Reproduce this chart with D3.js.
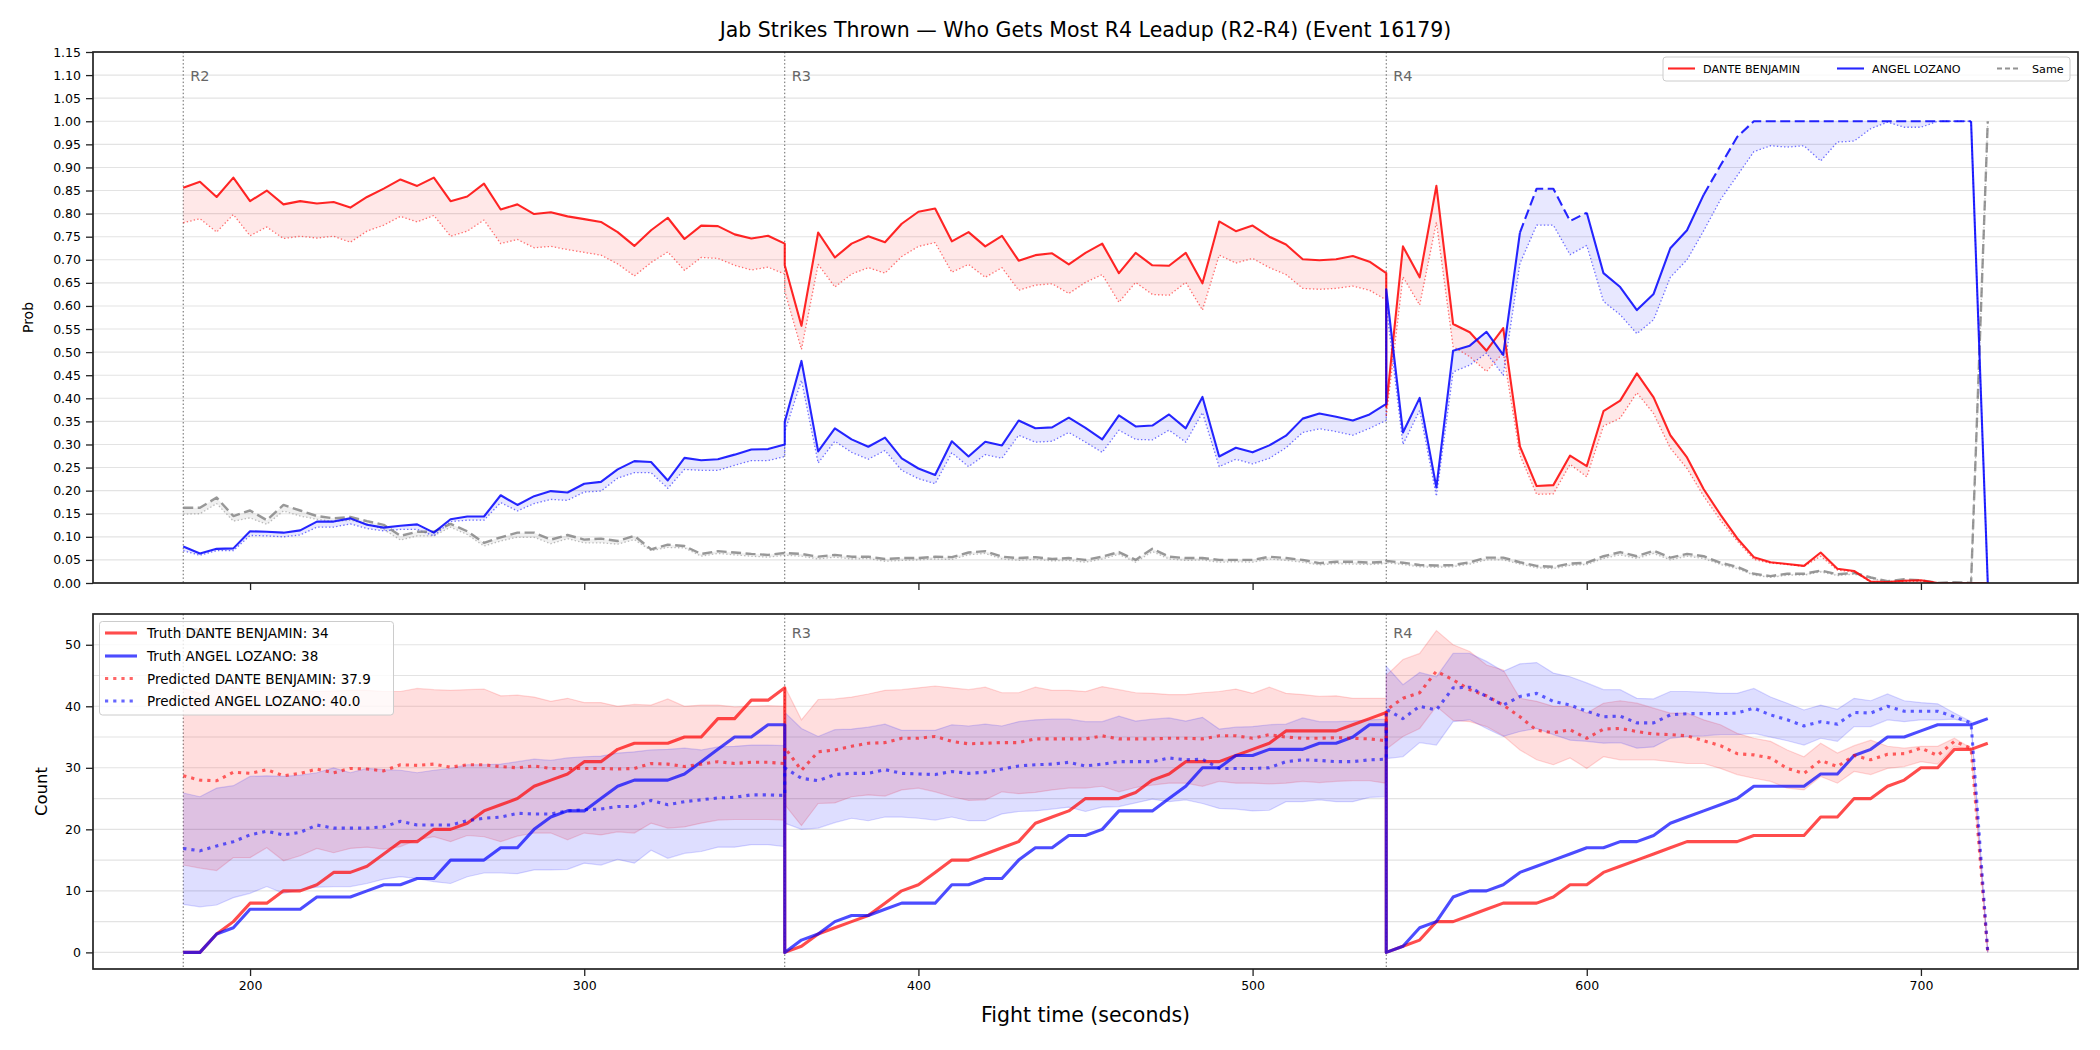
<!DOCTYPE html>
<html><head><meta charset="utf-8">
<script src="https://cdn.jsdelivr.net/npm/d3@7"></script>
<style>body{margin:0;background:#fff;} svg{display:block;font-family:"DejaVu Sans",sans-serif;}</style>
</head><body><svg id="c" width="2100" height="1050"></svg>
<script>
// ---------------- DATA ----------------
const title = "Jab Strikes Thrown \u2014 Who Gets Most R4 Leadup (R2-R4) (Event 16179)";
const fighterA = "DANTE BENJAMIN", fighterB = "ANGEL LOZANO";
const roundStarts = [180, 360, 540];
const roundLabels = ["R2", "R3", "R4"];
const timeTicks = [200, 300, 400, 500, 600, 700];
const probTicks = [0,0.05,0.10,0.15,0.20,0.25,0.30,0.35,0.40,0.45,0.50,0.55,0.60,0.65,0.70,0.75,0.80,0.85,0.90,0.95,1.00,1.05,1.10,1.15];
const countTicks = [0,10,20,30,40,50];
const countGrid = [0,5,10,15,20,25,30,35,40,45,50];

const times = [
180,185,190,195,200,205,210,215,220,225,230,235,240,245,250,255,260,265,270,275,280,285,290,295,300,305,310,315,320,325,330,335,340,345,350,355,360,
360,365,370,375,380,385,390,395,400,405,410,415,420,425,430,435,440,445,450,455,460,465,470,475,480,485,490,495,500,505,510,515,520,525,530,535,540,
540,545,550,555,560,565,570,575,580,585,590,595,600,605,610,615,620,625,630,635,640,645,650,655,660,665,670,675,680,685,690,695,700,705,710,715,720];

// Top panel: probability of leading (truth = solid, predicted = dotted)
const benjaminProb = [
0.856,0.869,0.836,0.878,0.827,0.850,0.820,0.827,0.822,0.825,0.813,0.836,0.854,0.874,0.860,0.878,0.827,0.837,0.865,0.809,0.820,0.799,0.803,0.794,0.788,0.782,0.760,0.730,0.764,0.791,0.745,0.774,0.773,0.755,0.746,0.752,0.735,
0.688,0.557,0.759,0.705,0.735,0.751,0.738,0.778,0.804,0.811,0.740,0.760,0.729,0.752,0.698,0.710,0.714,0.690,0.715,0.735,0.671,0.715,0.688,0.687,0.715,0.649,0.783,0.762,0.774,0.750,0.733,0.701,0.699,0.701,0.708,0.696,0.671,
0.382,0.729,0.662,0.860,0.561,0.543,0.503,0.552,0.296,0.210,0.212,0.276,0.253,0.372,0.395,0.454,0.402,0.320,0.272,0.203,0.148,0.097,0.056,0.045,0.041,0.037,0.066,0.031,0.026,0.003,0.002,0.005,0.006,0,0,0,0];
const benjaminProbPred = [
0.780,0.789,0.760,0.798,0.752,0.771,0.746,0.751,0.747,0.751,0.738,0.762,0.775,0.794,0.782,0.796,0.751,0.762,0.786,0.735,0.744,0.726,0.729,0.722,0.716,0.710,0.691,0.665,0.694,0.717,0.677,0.705,0.703,0.688,0.678,0.684,0.669,
0.632,0.506,0.690,0.641,0.669,0.683,0.671,0.707,0.729,0.737,0.673,0.690,0.662,0.683,0.634,0.645,0.648,0.627,0.651,0.668,0.608,0.651,0.625,0.623,0.651,0.591,0.710,0.693,0.703,0.683,0.668,0.638,0.636,0.638,0.643,0.634,0.613,
0.360,0.663,0.602,0.781,0.512,0.490,0.458,0.499,0.277,0.192,0.193,0.257,0.230,0.340,0.357,0.412,0.367,0.292,0.248,0.188,0.136,0.091,0.051,0.043,0.040,0.036,0.058,0.028,0.024,0.002,0.001,0.003,0.004,0,0,0,0];
const lozanoProb = [
0.079,0.064,0.074,0.075,0.112,0.111,0.109,0.114,0.133,0.133,0.140,0.126,0.120,0.124,0.127,0.109,0.138,0.144,0.144,0.190,0.169,0.188,0.199,0.196,0.215,0.219,0.246,0.264,0.262,0.222,0.271,0.266,0.268,0.278,0.289,0.290,0.300,
0.349,0.481,0.285,0.335,0.311,0.295,0.315,0.270,0.248,0.234,0.307,0.274,0.306,0.298,0.352,0.335,0.337,0.358,0.336,0.311,0.363,0.339,0.341,0.365,0.335,0.403,0.274,0.293,0.283,0.298,0.319,0.356,0.367,0.360,0.352,0.365,0.388,
0.636,0.326,0.401,0.207,0.503,0.514,0.544,0.494,0.759,0.854,0.854,0.784,0.802,0.671,0.641,0.591,0.626,0.725,0.764,0.841,0.904,0.966,1.0,1.0,1.0,1.0,1.0,1.0,1.0,1.0,1.0,1.0,1.0,1.0,1.0,1.0,0.0];
const lozanoProbPred = [
0.070,0.060,0.070,0.070,0.103,0.102,0.100,0.104,0.121,0.121,0.128,0.118,0.113,0.116,0.116,0.102,0.133,0.136,0.136,0.174,0.156,0.172,0.181,0.179,0.197,0.199,0.227,0.239,0.239,0.205,0.246,0.244,0.244,0.255,0.265,0.265,0.274,
0.327,0.439,0.260,0.307,0.283,0.268,0.287,0.244,0.226,0.215,0.282,0.252,0.278,0.270,0.320,0.305,0.307,0.326,0.305,0.283,0.331,0.311,0.310,0.331,0.305,0.369,0.252,0.268,0.258,0.270,0.293,0.326,0.334,0.328,0.320,0.335,0.352,
0.600,0.300,0.374,0.188,0.457,0.472,0.498,0.450,0.692,0.775,0.775,0.711,0.731,0.610,0.581,0.540,0.570,0.662,0.700,0.763,0.830,0.882,0.934,0.947,0.944,0.947,0.914,0.955,0.957,0.984,0.998,0.987,0.987,1.0,1.0,1.0,0.0];
const lozanoDashedSpans = [[580, 600], [635, 715]];
const sameProb = [
0.163,0.163,0.185,0.145,0.157,0.136,0.169,0.157,0.145,0.140,0.143,0.134,0.126,0.102,0.111,0.111,0.128,0.112,0.087,0.099,0.109,0.109,0.094,0.104,0.094,0.096,0.091,0.102,0.073,0.083,0.080,0.063,0.069,0.066,0.063,0.061,0.065,
0.065,0.063,0.057,0.061,0.057,0.057,0.052,0.054,0.054,0.057,0.056,0.066,0.069,0.057,0.054,0.056,0.052,0.054,0.050,0.057,0.067,0.050,0.074,0.057,0.054,0.054,0.050,0.050,0.050,0.057,0.054,0.050,0.043,0.046,0.046,0.044,0.046,
0.048,0.044,0.039,0.038,0.039,0.045,0.055,0.055,0.045,0.037,0.035,0.042,0.044,0.058,0.067,0.058,0.070,0.055,0.063,0.058,0.044,0.035,0.020,0.015,0.020,0.020,0.027,0.019,0.022,0.012,0.004,0.008,0.006,0.0,0.002,0.0,1.0];
const sameProbPred = [
0.149,0.150,0.172,0.134,0.141,0.127,0.156,0.145,0.138,0.133,0.136,0.128,0.116,0.093,0.102,0.102,0.121,0.105,0.080,0.091,0.099,0.099,0.085,0.096,0.087,0.087,0.084,0.094,0.070,0.077,0.076,0.058,0.064,0.061,0.058,0.056,0.060,
0.060,0.058,0.052,0.056,0.052,0.053,0.047,0.049,0.050,0.052,0.051,0.061,0.064,0.052,0.049,0.051,0.048,0.049,0.045,0.052,0.062,0.045,0.068,0.052,0.049,0.050,0.045,0.046,0.045,0.052,0.049,0.045,0.039,0.042,0.041,0.040,0.042,
0.044,0.040,0.035,0.034,0.035,0.041,0.050,0.050,0.041,0.033,0.031,0.038,0.040,0.053,0.061,0.053,0.064,0.050,0.058,0.053,0.040,0.031,0.017,0.012,0.017,0.017,0.024,0.016,0.019,0.010,0.003,0.006,0.005,0.0,0.001,0.0,1.0];

// Bottom panel: cumulative jab counts per round
const benjaminCount = [
0,0,3,5,8,8,10,10,11,13,13,14,16,18,18,20,20,21,23,24,25,27,28,29,31,31,33,34,34,34,35,35,38,38,41,41,43,
0,1,3,4,5,6,8,10,11,13,15,15,16,17,18,21,22,23,25,25,25,26,28,29,31,31,31,32,33,34,36,36,36,36,37,38,39,
0,1,2,5,5,6,7,8,8,8,9,11,11,13,14,15,16,17,18,18,18,18,19,19,19,19,22,22,25,25,27,28,30,30,33,33,34];
const lozanoCount = [
0,0,3,4,7,7,7,7,9,9,9,10,11,11,12,12,15,15,15,17,17,20,22,23,23,25,27,28,28,28,29,31,33,35,35,37,37,
0,2,3,5,6,6,7,8,8,8,11,11,12,12,15,17,17,19,19,20,23,23,23,25,27,30,30,32,32,33,33,33,34,34,35,37,37,
0,1,4,5,9,10,10,11,13,14,15,16,17,17,18,18,19,21,22,23,24,25,27,27,27,27,29,29,32,33,35,35,36,37,37,37,38];
const benjaminCountPred = [
28.7,28.0,27.9,29.3,29.1,29.7,28.7,29.1,29.8,29.2,29.9,29.8,29.5,30.5,30.4,30.6,30.1,30.5,30.5,30.2,30.0,30.3,29.9,29.9,29.9,29.9,29.8,29.9,30.7,30.6,30.2,30.6,31.0,30.7,30.9,30.9,30.7,
33.3,29.6,32.6,32.9,33.5,34.0,34.1,34.8,34.8,35.1,34.3,33.9,34.0,34.1,34.1,34.7,34.7,34.7,34.7,35.2,34.7,34.7,34.7,34.8,34.8,34.7,35.2,35.2,34.8,35.4,35.0,34.8,34.8,34.9,34.8,34.7,34.4,
39.4,41.3,42.2,45.7,44.3,42.7,41.7,40.2,38.3,36.1,35.7,36.2,34.8,36.3,36.4,35.9,35.5,35.4,35.2,34.4,33.6,32.3,32.1,31.6,29.9,29.1,31.2,30.2,32.0,31.3,32.2,32.3,33.2,32.0,34.3,33.2,0];
const lozanoCountPred = [
16.9,16.5,17.3,18.0,19.1,19.7,19.1,19.5,20.7,20.2,20.2,20.2,20.4,21.3,20.7,20.7,20.7,21.4,21.8,22.0,22.6,22.5,22.5,23.0,23.2,23.3,23.7,23.7,24.7,24.0,24.5,24.8,25.1,25.2,25.6,25.6,25.5,
30.0,28.3,27.9,28.9,29.1,29.1,29.7,29.1,29.0,28.9,29.4,29.1,29.3,29.8,30.3,30.5,30.6,30.9,30.3,30.6,31.0,31.0,31.0,31.6,31.3,31.4,29.9,29.9,29.9,30.0,31.0,31.3,31.2,31.0,31.0,31.3,31.4,
39.5,38.0,40.0,39.4,43.0,43.1,41.6,40.2,41.6,42.1,40.8,40.2,39.2,38.3,38.4,37.3,37.3,38.6,38.8,38.8,38.8,38.9,39.7,38.6,37.8,36.8,37.5,37.1,39.0,38.9,40.0,39.2,39.2,39.2,38.3,37.3,0];
const benjaminBandHi = [
42.9,42.1,43.5,43.0,42.8,43.2,42.5,42.6,42.4,42.5,42.6,42.6,42.4,42.4,42.9,42.7,42.6,42.7,42.8,41.7,41.8,41.5,40.8,41.3,40.6,40.6,40.0,40.3,40.2,41.2,40.0,40.2,40.2,39.9,40.0,40.1,40.0,
43.2,37.8,41.1,41.2,41.5,42.0,42.6,42.7,43.0,43.3,43.0,42.7,43.1,42.2,42.2,43.1,42.6,42.6,42.4,43.2,42.7,42.2,42.1,41.9,41.9,42.2,42.4,42.8,42.1,43.1,42.1,41.9,41.6,41.7,41.3,41.3,41.3,
45.0,47.6,48.6,52.3,50.0,48.9,46.7,45.9,41.3,40.8,40.0,40.0,38.9,40.5,40.9,40.5,39.7,38.9,38.9,37.8,37.0,35.6,34.8,34.3,32.9,31.8,34.0,32.4,33.6,34.5,33.5,33.2,33.5,33.5,34.8,33.2,0];
const benjaminBandLo = [
14.2,13.7,13.3,15.4,15.4,17.0,14.9,15.7,16.9,16.2,16.9,17.1,16.8,17.2,18.3,18.8,18.0,19.0,18.8,18.0,18.9,19.4,19.4,18.3,19.4,19.1,19.6,19.4,21.0,20.2,20.4,21.0,21.5,21.6,21.6,21.6,21.5,
24.0,20.6,24.2,24.3,25.3,25.6,25.4,26.4,26.7,26.1,25.3,24.7,24.8,26.1,25.8,26.0,26.4,26.7,26.7,27.0,26.1,26.8,27.2,27.5,27.5,27.0,27.8,27.5,27.5,27.4,27.5,27.8,27.6,27.8,27.9,27.9,27.5,
33.0,35.1,36.4,40.0,37.7,37.5,36.7,35.2,32.9,31.3,30.5,31.6,29.9,31.8,31.3,31.3,31.3,31.0,30.7,30.7,29.9,28.9,28.3,27.8,26.7,26.4,28.6,27.5,29.4,28.9,29.9,30.2,31.0,30.6,33.5,32.9,0];
const lozanoBandHi = [
25.9,25.3,26.7,27.1,28.6,28.7,28.6,28.8,29.2,30.0,29.2,29.9,29.7,29.6,29.2,29.6,29.9,30.5,30.5,30.6,31.0,31.4,31.2,31.6,31.8,31.9,32.4,32.6,32.9,33.0,33.2,32.9,33.4,33.5,33.7,33.7,33.6,
39.0,36.4,35.1,36.2,36.3,36.6,37.1,36.1,36.1,36.1,37.0,36.8,37.1,36.8,37.5,37.8,37.9,37.9,37.5,37.5,38.4,37.6,37.9,38.1,37.6,38.2,36.3,36.6,36.7,37.0,37.1,38.1,37.5,37.5,37.6,37.8,37.9,
46.5,43.5,45.5,44.8,48.6,48.6,47.3,45.7,46.9,47.1,45.4,44.8,43.8,42.7,42.7,41.3,41.2,42.4,42.4,42.3,42.1,42.1,42.9,41.5,40.5,39.4,40.2,39.5,41.3,40.9,42.0,40.9,40.6,40.4,38.9,37.5,0];
const lozanoBandLo = [
7.8,7.4,7.7,8.9,9.6,10.7,9.6,10.2,10.6,10.7,10.7,11.2,11.9,12.3,12.0,11.5,11.2,12.3,12.9,12.9,12.8,13.4,13.4,13.5,14.5,14.2,15.1,14.5,16.6,15.3,16.1,16.4,17.1,17.1,17.5,17.5,17.2,
21.0,20.0,20.2,21.1,21.8,21.4,22.0,22.0,21.8,21.5,22.0,21.4,21.4,22.5,22.9,23.0,23.3,23.6,22.9,23.6,23.7,24.3,24.9,24.5,24.8,24.2,23.4,23.3,23.0,23.1,24.5,24.5,24.8,24.5,24.5,25.2,25.3,
31.5,31.8,34.1,33.7,37.5,37.8,36.4,35.1,35.9,36.4,35.4,34.5,34.3,34.0,34.1,33.2,33.4,34.8,35.1,35.2,35.4,35.4,35.6,35.0,34.4,33.7,34.8,34.3,36.7,36.7,37.8,37.5,37.8,37.8,37.9,37.3,0];
const finalTruthA = 34, finalTruthB = 38, finalPredA = "37.9", finalPredB = "40.0";

// ---------------- DRAWING ----------------
const svg = d3.select("#c");
svg.append("rect").attr("width", 2100).attr("height", 1050).attr("fill", "#fff");
const X0 = 93, X1 = 2078, T0 = 52, T1 = 583, B0 = 614, B1 = 969;
const x = d3.scaleLinear().domain([153, 747]).range([X0, X1]);
const yT = d3.scaleLinear().domain([0, 1.15]).range([T1, T0]);
const yB = d3.scaleLinear().domain([-2.7, 55]).range([B1, B0]);
const RED = "rgb(255,0,0)", BLUE = "rgb(0,0,255)", GREY = "rgb(128,128,128)";
const n = times.length;

const defs = svg.append("defs");
defs.append("clipPath").attr("id", "clipT").append("rect").attr("x", X0).attr("y", T0).attr("width", X1 - X0).attr("height", T1 - T0);
defs.append("clipPath").attr("id", "clipB").append("rect").attr("x", X0).attr("y", B0).attr("width", X1 - X0).attr("height", B1 - B0);

// Title
svg.append("text").attr("x", (X0 + X1) / 2).attr("y", 37).attr("text-anchor", "middle")
  .attr("font-size", 20.5).attr("fill", "#000").text(title);

// Grids
const gT = svg.append("g");
probTicks.forEach(v => gT.append("line").attr("x1", X0).attr("x2", X1).attr("y1", yT(v)).attr("y2", yT(v))
  .attr("stroke", "#e3e3e3").attr("stroke-width", 1.1));
const gB = svg.append("g");
countGrid.forEach(v => gB.append("line").attr("x1", X0).attr("x2", X1).attr("y1", yB(v)).attr("y2", yB(v))
  .attr("stroke", "#e3e3e3").attr("stroke-width", 1.1));

// Round lines
[[T0, T1], [B0, B1]].forEach(([a, b]) => {
  roundStarts.forEach(t => svg.append("line").attr("x1", x(t)).attr("x2", x(t)).attr("y1", a).attr("y2", b)
    .attr("stroke", "#666").attr("stroke-width", 1).attr("stroke-dasharray", "1.5,2.2"));
});

// ---- Top panel ----
const topG = svg.append("g").attr("clip-path", "url(#clipT)");
function bandTop(a, b, color, op) {
  const d = times.map((t, i) => ({ t, a: a[i], b: b[i] }));
  topG.append("path").datum(d).attr("fill", color).attr("fill-opacity", op)
    .attr("d", d3.area().x(p => x(p.t)).y0(p => yT(p.a)).y1(p => yT(p.b)));
}
bandTop(benjaminProb, benjaminProbPred, RED, 0.09);
bandTop(lozanoProb, lozanoProbPred, BLUE, 0.09);
bandTop(sameProb, sameProbPred, GREY, 0.12);
const lineT = d3.line().x(p => x(p[0])).y(p => yT(p[1]));
function ptsOf(vals) { return times.map((t, i) => [t, vals[i]]); }
function drawT(vals, color, w, op, dash) {
  const p = topG.append("path").datum(ptsOf(vals)).attr("fill", "none").attr("stroke", color)
    .attr("stroke-opacity", op).attr("stroke-width", w).attr("stroke-linejoin", "round").attr("d", lineT);
  if (dash) p.attr("stroke-dasharray", dash);
}
drawT(benjaminProbPred, RED, 1.3, 0.55, "1.4,2.2");
drawT(lozanoProbPred, BLUE, 1.3, 0.55, "1.4,2.2");
drawT(sameProbPred, GREY, 1.3, 0.5, "1.4,2.2");
drawT(sameProb, GREY, 2.4, 0.8, "10,4.5");
drawT(benjaminProb, RED, 2.1, 0.85, null);
// Lozano truth: solid, with dashed spans
function inSpan(t) { return lozanoDashedSpans.some(([a, b]) => t >= a && t <= b); }
let segs = [];
for (let i = 0; i < n - 1; i++) {
  const dashed = inSpan(times[i]) && inSpan(times[i + 1]) && times[i] !== times[i + 1];
  const last = segs[segs.length - 1];
  if (last && last.dashed === dashed) last.pts.push([times[i + 1], lozanoProb[i + 1]]);
  else segs.push({ dashed, pts: [[times[i], lozanoProb[i]], [times[i + 1], lozanoProb[i + 1]]] });
}
segs.forEach(s => {
  const p = topG.append("path").datum(s.pts).attr("fill", "none").attr("stroke", BLUE).attr("stroke-opacity", 0.85)
    .attr("stroke-width", 2.1).attr("stroke-linejoin", "round").attr("d", lineT);
  if (s.dashed) p.attr("stroke-dasharray", "10,4.5");
});

// Round labels
roundStarts.forEach((t, i) => {
  svg.append("text").attr("x", x(t) + 7).attr("y", 81).attr("font-size", 14.5).attr("fill", "#666").text(roundLabels[i]);
});

// Top axes
svg.append("g").attr("transform", `translate(${X0},0)`)
  .call(d3.axisLeft(yT).tickValues(probTicks).tickFormat(d3.format(".2f")).tickSize(7).tickPadding(5));
svg.append("g").attr("transform", `translate(0,${T1})`)
  .call(d3.axisBottom(x).tickValues(timeTicks).tickFormat("").tickSize(7));
svg.append("rect").attr("x", X0).attr("y", T0).attr("width", X1 - X0).attr("height", T1 - T0)
  .attr("fill", "none").attr("stroke", "#222").attr("stroke-width", 1.7);
svg.append("text").attr("transform", `translate(33,${(T0 + T1) / 2}) rotate(-90)`).attr("text-anchor", "middle")
  .attr("font-size", 14).attr("fill", "#000").text("Prob");

// Top legend
const lgT = svg.append("g");
lgT.append("rect").attr("x", 1663).attr("y", 57).attr("width", 407).attr("height", 24).attr("rx", 3)
  .attr("fill", "#fff").attr("fill-opacity", 0.8).attr("stroke", "#cccccc").attr("stroke-width", 1);
[[1668, 1695, RED, null, fighterA, 1703], [1837, 1864, BLUE, null, fighterB, 1872], [1997, 2019, GREY, "5,3", "Same", 2032]]
  .forEach(([a, b, c, dash, label, tx]) => {
    const l = lgT.append("line").attr("x1", a).attr("x2", b).attr("y1", 68.5).attr("y2", 68.5).attr("stroke", c)
      .attr("stroke-opacity", 0.85).attr("stroke-width", 2.1);
    if (dash) l.attr("stroke-dasharray", dash);
    lgT.append("text").attr("x", tx).attr("y", 72.5).attr("font-size", 11.2).attr("fill", "#000").text(label);
  });

// ---- Bottom panel ----
const botG = svg.append("g").attr("clip-path", "url(#clipB)");
function bandB(lo, hi, color) {
  const d = times.map((t, i) => ({ t, a: lo[i], b: hi[i] }));
  botG.append("path").datum(d).attr("fill", color).attr("fill-opacity", 0.13)
    .attr("d", d3.area().x(p => x(p.t)).y0(p => yB(p.a)).y1(p => yB(p.b)));
  const ln = d3.line().x(p => x(p[0])).y(p => yB(p[1]));
  [lo, hi].forEach(arr => botG.append("path").datum(times.map((t, i) => [t, arr[i]])).attr("fill", "none")
    .attr("stroke", color).attr("stroke-opacity", 0.15).attr("stroke-width", 1.2).attr("d", ln));
}
bandB(benjaminBandLo, benjaminBandHi, RED);
bandB(lozanoBandLo, lozanoBandHi, BLUE);
const lineB = d3.line().x(p => x(p[0])).y(p => yB(p[1]));
function drawB(vals, color, w, op, dash) {
  const p = botG.append("path").datum(times.map((t, i) => [t, vals[i]])).attr("fill", "none").attr("stroke", color)
    .attr("stroke-opacity", op).attr("stroke-width", w).attr("stroke-linejoin", "round").attr("d", lineB);
  if (dash) p.attr("stroke-dasharray", dash);
}
drawB(benjaminCount, RED, 3.1, 0.7, null);
drawB(lozanoCount, BLUE, 3.1, 0.7, null);
drawB(benjaminCountPred, RED, 3.1, 0.6, "3.2,5");
drawB(lozanoCountPred, BLUE, 3.1, 0.6, "3.2,5");

roundStarts.forEach((t, i) => {
  svg.append("text").attr("x", x(t) + 7).attr("y", 638).attr("font-size", 14.5).attr("fill", "#666").text(roundLabels[i]);
});

svg.append("g").attr("transform", `translate(${X0},0)`)
  .call(d3.axisLeft(yB).tickValues(countTicks).tickSize(7).tickPadding(5));
svg.append("g").attr("transform", `translate(0,${B1})`)
  .call(d3.axisBottom(x).tickValues(timeTicks).tickSize(7).tickPadding(5));
svg.append("rect").attr("x", X0).attr("y", B0).attr("width", X1 - X0).attr("height", B1 - B0)
  .attr("fill", "none").attr("stroke", "#222").attr("stroke-width", 1.7);
svg.append("text").attr("transform", `translate(47,${(B0 + B1) / 2}) rotate(-90)`).attr("text-anchor", "middle")
  .attr("font-size", 16.5).attr("fill", "#000").text("Count");
svg.append("text").attr("x", (X0 + X1) / 2).attr("y", 1022).attr("text-anchor", "middle")
  .attr("font-size", 20.5).attr("fill", "#000").text("Fight time (seconds)");

// Bottom legend
const lgB = svg.append("g");
lgB.append("rect").attr("x", 99.5).attr("y", 621.5).attr("width", 294).attr("height", 93.5).attr("rx", 3)
  .attr("fill", "#fff").attr("fill-opacity", 0.8).attr("stroke", "#cccccc").attr("stroke-width", 1);
[[RED, 0.7, null, `Truth ${fighterA}: ${finalTruthA}`, 633],
 [BLUE, 0.7, null, `Truth ${fighterB}: ${finalTruthB}`, 656],
 [RED, 0.6, "3.2,5", `Predicted ${fighterA}: ${finalPredA}`, 678.5],
 [BLUE, 0.6, "3.2,5", `Predicted ${fighterB}: ${finalPredB}`, 701]].forEach(([c, op, dash, label, yy]) => {
  const l = lgB.append("line").attr("x1", 105).attr("x2", 137).attr("y1", yy).attr("y2", yy).attr("stroke", c)
    .attr("stroke-opacity", op).attr("stroke-width", 3.1);
  if (dash) l.attr("stroke-dasharray", dash);
  lgB.append("text").attr("x", 147).attr("y", yy + 5).attr("font-size", 13.5).attr("fill", "#000").text(label);
});

// Axis styling
svg.selectAll(".domain").remove();
svg.selectAll(".tick line").attr("stroke", "#222").attr("stroke-width", 1.3);
svg.selectAll(".tick text").attr("font-size", 12.5).attr("font-family", "DejaVu Sans").attr("fill", "#000");
</script></body></html>
